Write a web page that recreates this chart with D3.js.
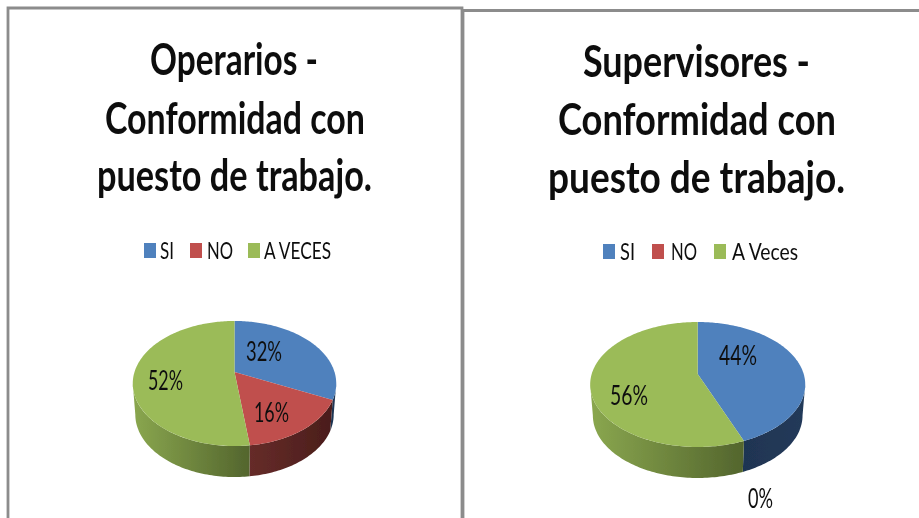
<!DOCTYPE html>
<html>
<head>
<meta charset="utf-8">
<style>
  html, body { margin: 0; padding: 0; background: #fff; overflow: hidden; }
  text { font-family: Lato, "Open Sans", sans-serif; fill: #111; }
</style>
<script src="https://cdn.jsdelivr.net/npm/d3@7"></script>
</head>
<body>
<svg id="chart" width="919" height="518"></svg>
<script>
// data
let operariosTitle = ["Operarios -", "Conformidad con", "puesto de trabajo."]
let operariosNames = ["SI", "NO", "A VECES"]
let operariosValues = [32, 16, 52]

let supervisoresTitle = ["Supervisores -", "Conformidad con", "puesto de trabajo."]
let supervisoresNames = ["SI", "NO", "A Veces"]
let supervisoresValues = [44, 0, 56]

let topColors = ["#4f81bd", "#c0504d", "#9bbb59"]
// side wall of the pie, left end and right end of each slice
let wallColors = [["#1f3552", "#233a5a"], ["#662c29", "#4a1d1b"], ["#8aa74f", "#53652d"]]

// layout of the two panels, x positions are [start, end] of each text
let panels = [
  {
    id: "op", title: operariosTitle, names: operariosNames, values: operariosValues,
    titleX: [[150, 318], [105, 365], [97, 372]], titleY: [75, 134, 191],
    legendY: 258, squareX: [144, 190, 248], legendX: [[160, 174], [207, 233], [264, 331]],
    pie: {cx: 234.5, cy: 372, rx: 100, ry: 60.4, k: 0.184, depth: 31},
    labelX: [[246, 282], [254, 289], [148, 183]], labelY: [361, 422, 390]
  },
  {
    id: "sup", title: supervisoresTitle, names: supervisoresNames, values: supervisoresValues,
    titleX: [[583, 810], [558, 836], [548, 845]], titleY: [77, 135, 193],
    legendY: 259, squareX: [603, 652, 714], legendX: [[620, 635], [671, 697], [732, 798]],
    pie: {cx: 697.7, cy: 374, rx: 106, ry: 60.7, k: 0.168, depth: 31},
    labelX: [[719, 757], [748, 773], [610, 648]], labelY: [365, 508, 405]
  }
]

let svg = d3.select("#chart")
let defs = svg.append("defs")

defs.append("filter")
  .attr("id", "soft")
  .attr("x", "-5%").attr("y", "-5%").attr("width", "110%").attr("height", "110%")
  .append("feGaussianBlur")
  .attr("stdDeviation", 0.55)

let page = svg.append("g").attr("filter", "url(#soft)")

// panel frames
let frameColor = "#8c8c8c"
page.append("path")
  .attr("d", "M8,530V8H462V530")
  .attr("fill", "none").attr("stroke", frameColor).attr("stroke-width", 2.8)
page.append("path")
  .attr("d", "M463,530V10.5H930")
  .attr("fill", "none").attr("stroke", frameColor).attr("stroke-width", 2.8)

// x,y on the tilted disc, a little perspective so the apex sits above the ellipse centre
function project(p, a) {
  let u = Math.sin(a), v = -Math.cos(a)
  let w = 1 - p.k * v
  return [p.cx + p.rx * u / w, p.cy + p.ry * v / w]
}

function samples(a0, a1) {
  let n = Math.max(2, Math.ceil((a1 - a0) / 0.02))
  return d3.range(n + 1).map(function(i) { return a0 + (a1 - a0) * i / n })
}

let line = d3.line()

function fitText(g, str, xs, y, size, weight) {
  g.append("text")
    .attr("x", xs[0])
    .attr("y", y)
    .attr("font-size", size)
    .attr("font-weight", weight)
    .attr("textLength", xs[1] - xs[0])
    .attr("lengthAdjust", "spacingAndGlyphs")
    .text(str)
}

panels.forEach(function(d) {
  let g = page.append("g")
  let p = d.pie

  d.title.forEach(function(t, i) {
    fitText(g, t, d.titleX[i], d.titleY[i], 44, 700)
  })

  d.names.forEach(function(n, i) {
    g.append("rect")
      .attr("x", d.squareX[i])
      .attr("y", d.legendY - 15)
      .attr("width", 12)
      .attr("height", 15)
      .attr("fill", topColors[i])
    fitText(g, n, d.legendX[i], d.legendY + 1, 24, 400)
  })

  let arcs = d3.pie().sort(null)(d.values)

  // walls, only the part that faces the viewer; the lower rim is a bit narrower
  let wallStart = Math.acos(-p.k)
  let wallEnd = 2 * Math.PI - wallStart
  arcs.forEach(function(a, i) {
    let a0 = Math.max(a.startAngle, wallStart)
    let a1 = Math.min(a.endAngle, wallEnd)
    if (a1 <= a0) return
    let rim = samples(a0, a1).map(function(t) { return project(p, t) })
    let low = rim.map(function(q) {
      return [p.cx + (q[0] - p.cx) * 0.975, q[1] + p.depth]
    }).reverse()
    let xs = d3.extent(rim, function(q) { return q[0] })
    let gradId = "wall-" + d.id + "-" + i
    let grad = defs.append("linearGradient")
      .attr("id", gradId)
      .attr("gradientUnits", "userSpaceOnUse")
      .attr("x1", xs[0]).attr("x2", xs[1]).attr("y1", 0).attr("y2", 0)
    grad.append("stop").attr("offset", 0).attr("stop-color", wallColors[i][0])
    grad.append("stop").attr("offset", 1).attr("stop-color", wallColors[i][1])
    g.append("path")
      .attr("d", line(rim.concat(low)) + "Z")
      .attr("fill", "url(#" + gradId + ")")
  })

  // top of the pie
  arcs.forEach(function(a, i) {
    if (a.endAngle <= a.startAngle) return
    let rim = samples(a.startAngle, a.endAngle).map(function(t) { return project(p, t) })
    g.append("path")
      .attr("d", line([[p.cx, p.cy]].concat(rim)) + "Z")
      .attr("fill", topColors[i])
  })

  d.values.forEach(function(v, i) {
    fitText(g, v + "%", d.labelX[i], d.labelY[i], 26, 400)
  })
})
</script>
</body>
</html>
